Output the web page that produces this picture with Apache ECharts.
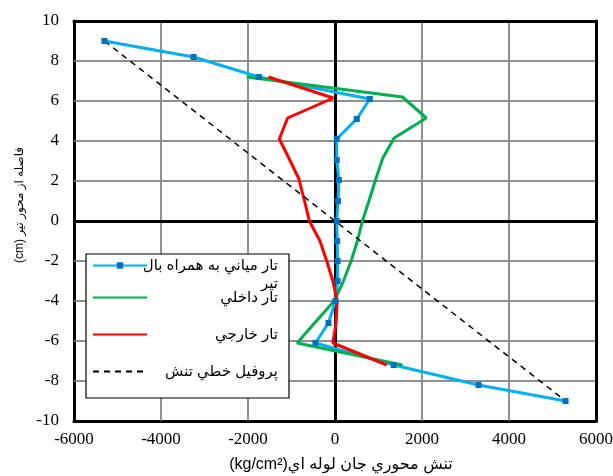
<!DOCTYPE html>
<html>
<head>
<meta charset="utf-8">
<script src="https://cdn.jsdelivr.net/npm/echarts@6/dist/echarts.min.js"></script>
<style>html,body{margin:0;padding:0;background:#fff;}#c{width:613px;height:476px;}</style>
</head>
<body>
<div id="c"></div>
<script>
// ---- data ----
var xTicks = [-6000, -4000, -2000, 0, 2000, 4000, 6000];
var yTicks = [-10, -8, -6, -4, -2, 0, 2, 4, 6, 8, 10];

var nameBlue = 'تار مياني به همراه بال تير';
var nameGreen = 'تار داخلي';
var nameRed = 'تار خارجي';
var nameDash = 'پروفيل خطي تنش';

var blueX = [-5300, -3250, -1750, 800, 500, 40, 40, 90, 70, 40, 50, 60, 60, 10, -150, -450, 1350, 3300, 5300];
var blueY = [9, 8.2, 7.2, 6.1, 5.1, 4.1, 3.05, 2.05, 1, 0, -1, -2, -3, -4, -5.1, -6.1, -7.2, -8.2, -9];

var greenX = [-2030, 1550, 2100, 1360, 1100, 930, 780, 630, 515, 370, 195, -20, -470, -870, 1550];
var greenY = [7.2, 6.2, 5.15, 4.15, 3.15, 2.05, 1, 0, -1, -2, -3, -4, -5.1, -6.1, -7.2];

var redX = [-1530, -40, -1090, -1280, -1040, -830, -700, -590, -345, -190, -50, 50, 25, -50, 1190];
var redY = [7.2, 6.15, 5.15, 4.1, 3.05, 2.1, 1, 0, -1, -2, -3, -4, -5.1, -6.1, -7.2];

var dashX = [-5300, 5300];
var dashY = [9, -9];

function pairs(xs, ys) { return xs.map(function (x, i) { return [x, ys[i]]; }); }

var chart = echarts.init(document.getElementById('c'), null, {renderer: 'canvas'});
var serif = '"Liberation Serif", "Times New Roman", serif';
var sans = 'Arial, "Liberation Sans", "DejaVu Sans", sans-serif';

function plainNum(v) { return String(v); }

var xMin = xTicks[0], xMax = xTicks[xTicks.length - 1];
var yMin = yTicks[0], yMax = yTicks[yTicks.length - 1];

var grayStyle = {color: '#8a8a8a', width: 1.5, type: 'solid'};
var blackStyle = {color: '#000', width: 3, type: 'solid'};

// grid lines at interior ticks, then black zero lines (through the axes' scales)
var refLines = [];
xTicks.forEach(function (t) { if (t !== 0 && t !== xMin && t !== xMax) refLines.push({xAxis: t, lineStyle: grayStyle}); });
yTicks.forEach(function (t) { if (t !== 0 && t !== yMin && t !== yMax) refLines.push({yAxis: t, lineStyle: grayStyle}); });
refLines.push({xAxis: 0, lineStyle: blackStyle});
refLines.push({yAxis: 0, lineStyle: blackStyle});

function frameAxis(dim, pos) {
  return {
    type: 'value', min: dim === 'x' ? xMin : yMin, max: dim === 'x' ? xMax : yMax,
    interval: dim === 'x' ? 2000 : 2, position: pos,
    axisLine: {show: true, onZero: false, lineStyle: {color: '#000', width: 3}},
    axisTick: {show: false}, axisLabel: {show: false}, splitLine: {show: false}, z: 3
  };
}

function legendFor(name, top, fmt, hideSymbol, itemH) {
  return {
    data: [hideSymbol ? {name: name, itemStyle: {opacity: 0}} : {name: name}],
    left: 92, top: top, padding: 0, orient: 'vertical',
    itemWidth: 54, itemHeight: itemH, itemGap: 5, z: 6,
    formatter: fmt,
    textStyle: {
      fontFamily: sans, fontSize: 15, color: '#000',
      rich: {a: {width: 126, align: 'right', fontFamily: sans, fontSize: 15, lineHeight: 18, color: '#000'}}
    }
  };
}

var option = {
  animation: false,
  backgroundColor: '#fff',
  grid: {left: 74, right: 17, top: 21, bottom: 55, outerBoundsMode: 'none'},
  xAxis: [
    {
      type: 'value', min: xMin, max: xMax, interval: 2000, position: 'bottom',
      axisLine: {show: true, onZero: false, lineStyle: {color: '#000', width: 3}},
      axisTick: {show: false},
      axisLabel: {color: '#000', fontFamily: serif, fontSize: 17, margin: 10, formatter: plainNum},
      splitLine: {show: true, lineStyle: grayStyle},
      name: '(kg/cm²)تنش محوري جان لوله اي', nameLocation: 'middle', nameGap: 36,
      nameTextStyle: {color: '#000', fontFamily: sans, fontSize: 16, padding: [0, 0, 0, 12]}
    },
    frameAxis('x', 'top')
  ],
  yAxis: [
    {
      type: 'value', min: yMin, max: yMax, interval: 2, position: 'left',
      axisLine: {show: true, onZero: false, lineStyle: {color: '#000', width: 3}},
      axisTick: {show: false},
      axisLabel: {color: '#000', fontFamily: serif, fontSize: 17, margin: 15, formatter: plainNum},
      splitLine: {show: true, lineStyle: grayStyle},
      name: '(cm) فاصله از محور تير', nameLocation: 'middle', nameGap: 47, nameRotate: 90,
      nameTextStyle: {color: '#000', fontFamily: sans, fontSize: 12, padding: [0, 0, 0, 32]}
    },
    frameAxis('y', 'right')
  ],
  graphic: [{
    type: 'rect', shape: {x: 86, y: 254, width: 203, height: 144},
    style: {fill: '#fff', stroke: '#000', lineWidth: 1.2}, z: 5
  }],
  legend: [
    legendFor(nameBlue, 240, function () { return '{a| }\n{a|تار مياني به همراه بال}\n{a|تير}'; }, false, 8),
    legendFor(nameGreen, 290, function (n) { return '{a|' + n + '}'; }, true, 14),
    legendFor(nameRed, 327, function (n) { return '{a|' + n + '}'; }, true, 14),
    legendFor(nameDash, 364, function (n) { return '{a|' + n + '}'; }, true, 14)
  ],
  series: [
    {
      name: nameBlue, type: 'line', data: pairs(blueX, blueY),
      symbol: 'rect', symbolSize: 6, showAllSymbol: true,
      lineStyle: {color: '#00b0f0', width: 3}, itemStyle: {color: '#0070c0'}, z: 4
    },
    {
      name: nameGreen, type: 'line', data: pairs(greenX, greenY), symbol: 'none',
      lineStyle: {color: '#00b050', width: 3}, itemStyle: {color: '#00b050'}, z: 4
    },
    {
      name: nameRed, type: 'line', data: pairs(redX, redY), symbol: 'none',
      lineStyle: {color: '#ff0000', width: 3}, itemStyle: {color: '#ff0000'}, z: 4
    },
    {
      name: nameDash, type: 'line', data: pairs(dashX, dashY), symbol: 'none',
      lineStyle: {color: '#000', width: 1.5, type: [6, 5]}, itemStyle: {color: '#000'}, z: 4,
      markLine: {
        silent: true, symbol: 'none', label: {show: false}, z: 3,
        lineStyle: {color: '#000', width: 3, type: 'solid'},
        data: refLines
      }
    }
  ]
};
chart.setOption(option);
</script>
</body>
</html>
